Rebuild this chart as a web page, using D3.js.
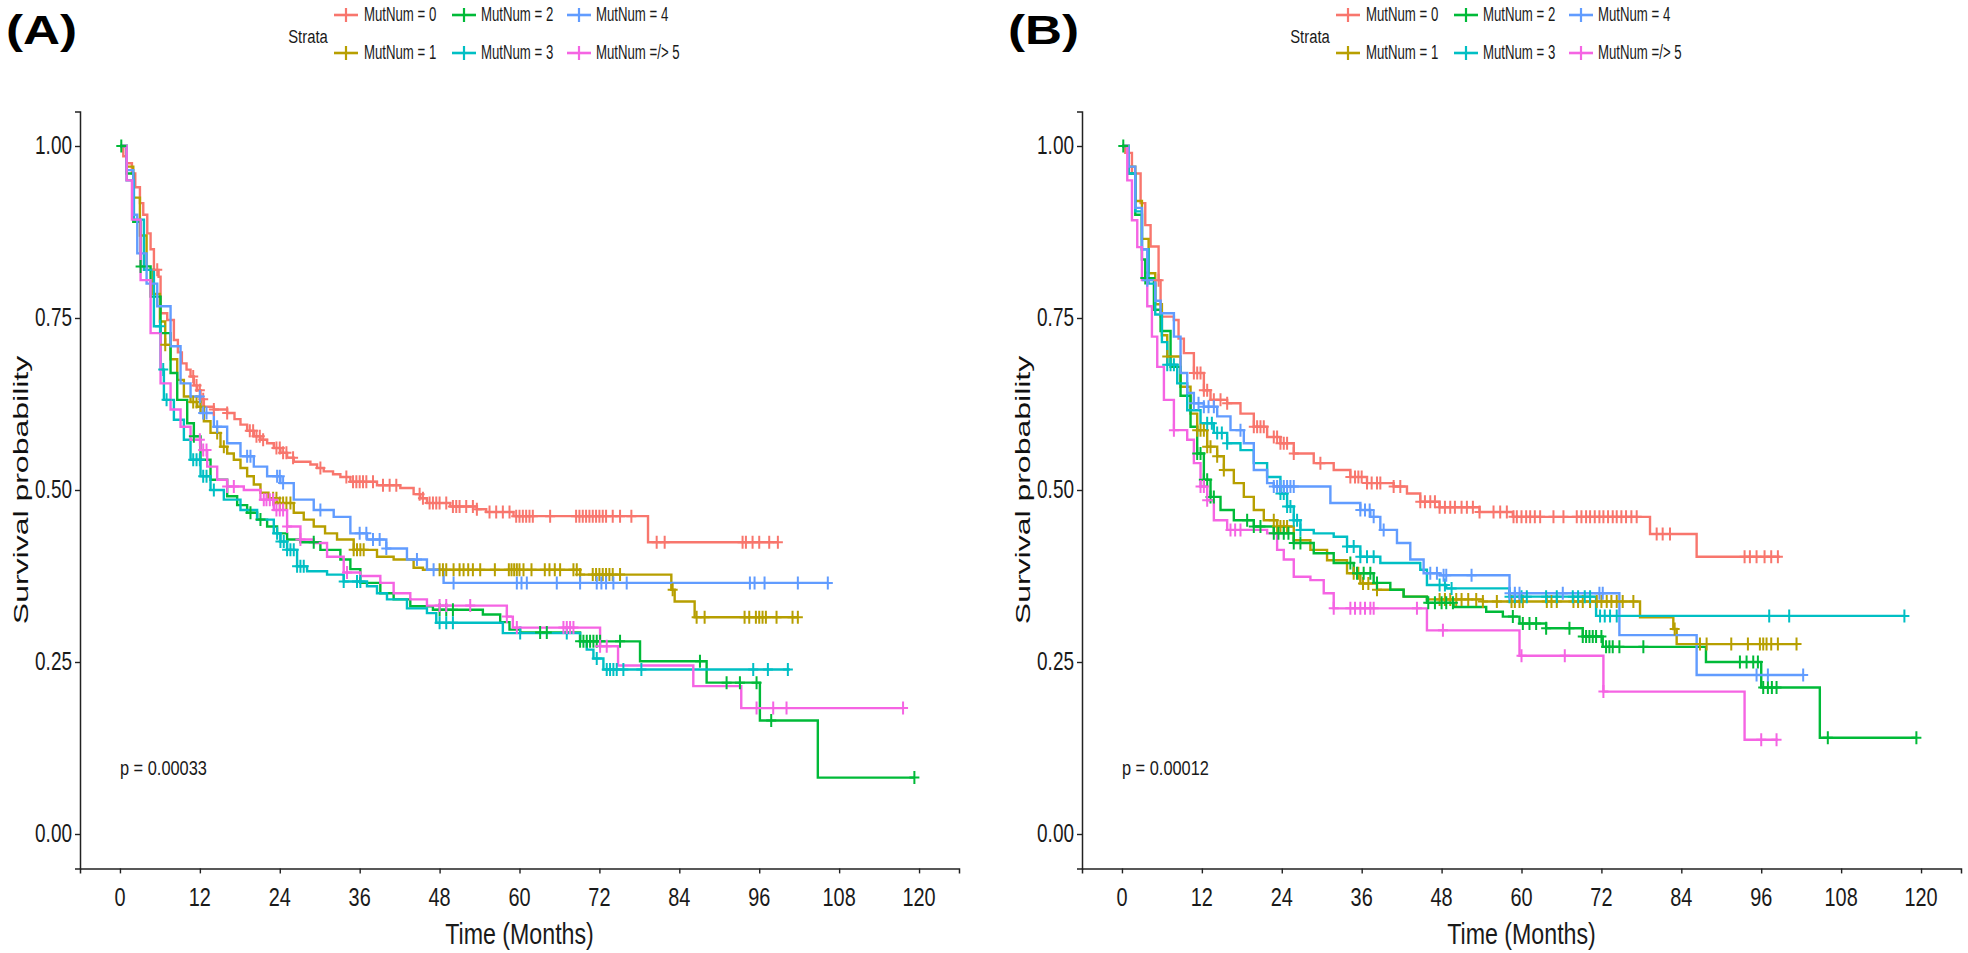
<!DOCTYPE html>
<html>
<head>
<meta charset="utf-8">
<script src="https://cdn.jsdelivr.net/npm/d3@7"></script>
<style>
  html, body { margin: 0; padding: 0; background: #ffffff; }
  svg { display: block; }
</style>
</head>
<body>
<svg id="chart" width="1968" height="953"></svg>
<script>
// ---------------- DATA ----------------
const categories = ["MutNum = 0", "MutNum = 1", "MutNum = 2", "MutNum = 3", "MutNum = 4", "MutNum =/> 5"];
const seriesColors = ["#F8766D", "#B79F00", "#00BA38", "#00BFC4", "#619CFF", "#F564E3"];
const legendOrder = [0, 2, 4, 1, 3, 5];
const legendTitle = "Strata";
const xTicks = [0, 12, 24, 36, 48, 60, 72, 84, 96, 108, 120];
const yTicks = [0, 0.25, 0.5, 0.75, 1];
const yTickLabels = ["0.00", "0.25", "0.50", "0.75", "1.00"];
const xTitle = "Time (Months)";
const yTitle = "Survival probability";
const panelLabels = ["(A)", "(B)"];
const pValueLabels = ["p = 0.00033", "p = 0.00012"];

// Panel A : [time, survival] step points
const survA0 = [[0,1],[0.5,0.985],[1,0.975],[1.8,0.96],[2.3,0.94],[3,0.917],[3.5,0.9],[4.1,0.873],[4.6,0.85],[5.1,0.82],[5.8,0.81],[6.1,0.757],[7.1,0.747],[8.1,0.718],[8.7,0.7],[9.3,0.684],[10,0.675],[10.6,0.665],[11.1,0.652],[11.6,0.645],[12.1,0.632],[12.6,0.621],[14.1,0.617],[16.1,0.612],[17.2,0.603],[18.1,0.595],[19.1,0.586],[20.1,0.578],[21.1,0.573],[22.1,0.568],[23.1,0.561],[24.1,0.554],[25.1,0.547],[26.1,0.541],[28.6,0.537],[29.6,0.532],[30.6,0.527],[32,0.523],[33.1,0.519],[34.6,0.512],[38.6,0.507],[42.1,0.503],[44.1,0.494],[45.1,0.488],[46.1,0.481],[49.6,0.476],[53.6,0.472],[55,0.468],[59.1,0.462],[79.3,0.424]];
const survA1 = [[0,1],[1,0.97],[2,0.925],[3,0.87],[4,0.82],[5,0.785],[6,0.745],[6.8,0.711],[7.6,0.69],[8.6,0.66],[9.6,0.636],[10.6,0.628],[11.6,0.621],[12.6,0.6],[13.6,0.583],[15.1,0.563],[16.1,0.553],[17.1,0.544],[18.1,0.532],[19.1,0.52],[20.1,0.508],[21.1,0.496],[22.3,0.488],[23.6,0.481],[26.1,0.467],[27.6,0.457],[29.1,0.447],[30.8,0.437],[32.6,0.428],[35.1,0.413],[38.6,0.403],[41.1,0.399],[44.1,0.387],[45.5,0.384],[69.1,0.377],[82.8,0.355],[83.3,0.338],[86.3,0.315]];
const survA2 = [[0,1],[1,0.96],[2,0.89],[3.1,0.825],[4.6,0.781],[6.1,0.728],[7.6,0.67],[8.6,0.631],[10.1,0.597],[11.1,0.578],[12.1,0.544],[13.6,0.515],[16.1,0.491],[17.6,0.478],[19.1,0.467],[20.6,0.457],[22.1,0.447],[23.6,0.437],[25.1,0.428],[27.1,0.424],[30.1,0.413],[33.1,0.399],[34.6,0.385],[36.1,0.365],[39.1,0.35],[41.1,0.341],[43.6,0.331],[47,0.326],[54.5,0.319],[57.1,0.308],[58.5,0.297],[60.1,0.293],[69.1,0.28],[78.1,0.251],[88.1,0.22],[96.1,0.165],[104.8,0.082]];
const survA3 = [[0,1],[1,0.95],[2.1,0.893],[3.6,0.82],[5.1,0.738],[6.1,0.675],[6.6,0.631],[8.1,0.602],[9.6,0.573],[10.6,0.544],[12.1,0.52],[13.6,0.5],[15.6,0.486],[18.1,0.471],[20.6,0.457],[23.1,0.437],[24.1,0.425],[25.1,0.413],[26.6,0.389],[28.1,0.382],[31.1,0.377],[33.6,0.367],[37.1,0.36],[38.6,0.35],[40.1,0.341],[43.1,0.328],[46.1,0.321],[47.5,0.307],[57.5,0.292],[69.1,0.28],[70.1,0.268],[71.1,0.255],[72.6,0.239]];
const survA4 = [[0,1],[1,0.965],[2,0.9],[2.6,0.844],[4,0.8],[5.6,0.767],[7.6,0.709],[9.1,0.655],[10.6,0.636],[12.1,0.612],[14.1,0.592],[16.1,0.568],[18.1,0.549],[20.1,0.534],[22.1,0.52],[24.1,0.51],[26.1,0.486],[29.1,0.471],[32.1,0.461],[34.6,0.437],[37.1,0.428],[40,0.415],[43.1,0.399],[46.1,0.384],[48.6,0.365]];
const survA5 = [[0,1],[1,0.95],[1.8,0.893],[3.1,0.805],[4.6,0.728],[6.1,0.655],[7.6,0.617],[9.1,0.592],[10.6,0.573],[12.1,0.558],[13.1,0.534],[14.6,0.515],[16.1,0.505],[18.6,0.5],[21.1,0.486],[23.1,0.471],[25.1,0.447],[27.1,0.428],[29.1,0.423],[31.1,0.403],[33.6,0.38],[36.1,0.375],[39.1,0.365],[41.1,0.35],[43.6,0.341],[46.1,0.332],[58.1,0.316],[59,0.3],[72.1,0.273],[74.8,0.245],[86.1,0.215],[93.3,0.183]];
const endA = [98.8, 101.8, 119.3, 100.6, 106.3, 117.6];
const censA0 = [5.6,11,11.5,12,12.5,14.1,16.1,19.5,20,20.5,21,21.5,23.5,24,24.5,25,26,30.1,34,35,35.5,36,36.5,37,38,39.5,40.5,41.5,45,45.5,46.5,47,47.5,48,49,50,50.5,51,52,53,53.6,55.5,56.5,57.5,58.5,59.5,60,60.5,61,61.5,62,64.6,68.5,69,69.5,70,70.5,71,71.5,72,72.5,73,74,75.1,76.8,80.6,81.8,93.5,94,95,96,97.5,98.8];
const censA1 = [6.8,11,11.5,12.1,14.6,15.6,23,23.5,24,24.5,25,25.6,35.1,35.6,36.1,36.6,48,48.5,49,50.1,51,51.6,52.3,53,54.1,56.3,58.4,58.8,59.2,59.6,60,60.6,61.8,63.8,64.5,65.3,66.1,68.1,68.6,69.1,71,71.5,72,72.5,73,73.5,74,75.1,83,86.6,87.8,93.8,94.5,95.5,96,96.5,97,98.6,101,101.8];
const censA2 = [0.2,3.1,11.1,19.6,21.1,29.1,48,49,50,63.1,64.1,69.1,69.6,70.1,70.6,71.1,71.6,72.1,75.1,87.1,91.1,93.1,95.6,97.8,119.3];
const censA3 = [6,6.5,7,11,11.5,12,12.5,13,14.1,23.6,24.1,24.6,25.1,25.6,26.1,26.6,27.1,27.6,33.6,35.6,36.1,48,49,50,60.1,67.1,71.6,73.1,73.6,74.1,74.6,75.6,78.3,95.1,97.3,100.3];
const censA4 = [12,12.5,13,14.6,19.1,19.6,23.6,24,24.5,30.1,36,37,38,39,40,44.6,47.1,50.1,59.6,60.3,61.1,65.6,69.1,71.6,72.3,73,74.1,76.1,94.6,95.3,96.8,101.8,106.3];
const censA5 = [12,12.5,13,16.1,17.1,21.6,22,22.5,23,23.5,24,24.5,25.1,27.1,34.1,48,49,52.6,58.1,59.6,66.6,67.1,67.6,68.1,72.1,73.1,95.6,98.1,100.1,117.6];

// Panel B : [time, survival] step points
const survB0 = [[0,1],[0.5,0.99],[1.5,0.96],[2.8,0.917],[3.5,0.885],[4.3,0.854],[5.5,0.805],[5.8,0.752],[7.8,0.747],[8.5,0.72],[9.3,0.699],[10.8,0.67],[12.3,0.645],[13.3,0.631],[15.8,0.626],[17.8,0.611],[19.8,0.592],[21.8,0.577],[23.8,0.568],[25.8,0.553],[28.8,0.539],[31.8,0.529],[34.3,0.519],[36.8,0.51],[40.8,0.505],[42.8,0.495],[44.8,0.483],[47.7,0.475],[53.7,0.468],[58.7,0.461],[79.3,0.436],[86.3,0.403]];
const survB1 = [[0,1],[1,0.97],[2,0.92],[3,0.865],[4,0.815],[5,0.77],[6,0.725],[6.8,0.694],[8.8,0.65],[10.3,0.611],[11.3,0.587],[12.8,0.563],[14.3,0.549],[15.3,0.529],[16.8,0.51],[18.3,0.49],[19.8,0.471],[21.3,0.456],[23.3,0.447],[25.8,0.427],[28.3,0.413],[30.8,0.398],[33.8,0.379],[35.8,0.364],[38.3,0.355],[42.3,0.345],[45.8,0.341],[54.2,0.338],[77.8,0.315],[82.8,0.298],[83.3,0.276]];
const survB2 = [[0,1],[1,0.96],[2,0.9],[3,0.835],[3.5,0.808],[4.8,0.762],[5.8,0.731],[7.3,0.679],[8.8,0.637],[10.3,0.592],[11.3,0.553],[12.3,0.515],[13.3,0.49],[14.8,0.471],[16.8,0.456],[19.8,0.447],[22.8,0.437],[25.8,0.423],[28.8,0.408],[31.8,0.394],[34.8,0.379],[37.8,0.365],[40.3,0.355],[42.3,0.345],[45.8,0.336],[49.8,0.33],[54.7,0.323],[57.2,0.316],[59.7,0.306],[63.7,0.299],[69.2,0.287],[72.2,0.272],[87.7,0.25],[96,0.213],[104.8,0.14]];
const survB3 = [[0,1],[1,0.96],[2,0.905],[3,0.85],[4,0.8],[5,0.755],[6,0.715],[6.8,0.682],[8.3,0.655],[9.8,0.616],[11.8,0.597],[13.8,0.583],[15.8,0.568],[17.8,0.558],[19.8,0.539],[21.8,0.519],[23.8,0.495],[24.8,0.476],[25.8,0.456],[26.8,0.442],[28.8,0.437],[31.8,0.432],[33.8,0.418],[35.8,0.403],[38.8,0.394],[44.8,0.384],[45.8,0.362],[48.7,0.357],[58.2,0.345],[71.2,0.317]];
const survB4 = [[0,1],[1,0.97],[2,0.91],[3,0.85],[3.8,0.805],[5,0.775],[5.8,0.757],[7.8,0.723],[8.8,0.67],[9.8,0.641],[10.8,0.626],[12.3,0.621],[14.3,0.607],[16.3,0.587],[18.3,0.568],[19.8,0.529],[21.8,0.51],[22.8,0.505],[31.3,0.481],[35.8,0.471],[37.3,0.461],[38.8,0.442],[41.3,0.423],[43.3,0.399],[45.3,0.379],[47.7,0.376],[58.2,0.35],[74.7,0.289],[86.3,0.231]];
const survB5 = [[0,1],[0.8,0.95],[1.5,0.892],[2.3,0.853],[3,0.805],[3.8,0.767],[4.5,0.723],[5.3,0.679],[6.3,0.631],[7.8,0.587],[9.8,0.573],[10.8,0.539],[11.8,0.505],[12.8,0.485],[13.8,0.456],[15.8,0.442],[21.8,0.437],[23.3,0.413],[24.3,0.399],[25.8,0.374],[28.3,0.369],[30.3,0.35],[31.8,0.328],[45.8,0.296],[59.7,0.259],[72.3,0.207],[93.5,0.137]];
const endB = [98.8, 101.5, 119.3, 117.5, 102.3, 98.5];
const censB0 = [5.5,10.8,11.3,11.8,12.3,12.8,13.8,14.8,15.8,19.8,20.3,20.8,21.3,22.8,23.3,23.8,24.3,24.8,25.8,29.8,34.3,35,35.5,36,36.8,37.5,38.3,38.8,40.8,41.8,44.8,45.5,46.3,47,47.7,48.5,49.3,50,51,51.8,52.7,53.7,55.8,56.8,57.8,58.8,59.3,60,60.7,61.3,62,62.8,64.8,66.3,68.3,69,69.7,70.3,71,71.7,72.3,73,73.7,74.3,75,75.7,76.5,77.3,80.3,81.2,82.3,93.5,94.3,95.3,96.5,97.5,98.5];
const censB1 = [6.8,11.3,11.8,12.3,12.8,13.3,14.3,15.3,22.8,23.3,23.8,24.3,24.8,34.8,35.5,36.2,37,38.3,47.7,48.5,49.3,50.2,51,52,53.2,54.2,56.3,58.5,59,59.7,60.2,63.8,64.5,65.3,67.8,68.5,69.2,70.3,71.3,72,72.8,73.5,74.3,75.2,76.8,83,86.8,87.8,91.5,94,95.8,96.3,96.8,97.5,98.5,101.3];
const censB2 = [0.2,3.5,11.3,11.8,12.3,12.8,13.3,13.8,18.8,19.8,20.8,22.8,23.5,24.3,25,25.8,26.8,34.3,35.3,36.3,37.3,38.3,46,47,48,48.7,49.7,58.7,60.2,61.2,62.2,63.7,67.2,69.2,69.7,70.2,70.7,71.2,72,72.7,73.2,73.7,74.7,78.3,92.8,93.8,94.8,95.5,96.3,97,97.6,98.3,106,119.3];
const censB3 = [6.8,7.3,7.8,12.8,13.5,14.3,15,15.8,23.8,24.3,24.8,25.3,25.8,26.3,26.8,33.8,34.8,35.8,36.8,37.8,47.7,48.5,49.5,58.2,59,60,60.8,63.7,65.3,67.7,68.5,69.5,70.3,71.8,72.5,73.3,74.3,97.2,100.2,117.5];
const censB4 = [3.8,10.8,11.5,12.3,13,13.8,17.8,22.8,23.3,23.8,24.3,24.8,25.3,25.8,35.8,36.5,37.2,37.8,39.3,46.3,47.3,48.3,48.7,52.5,58.2,59,59.7,66.2,71.7,72.2,95.3,97,102.3];
const censB5 = [7.8,11.8,12.3,12.8,16.3,17,17.8,31.8,34.3,35,35.8,36.5,37.3,37.8,44.3,48.2,60,66.5,72.3,96,98.3];

// ---------------- BUILD ----------------
const panels = [
  { label: panelLabels[0], pval: pValueLabels[0], surv: [survA0, survA1, survA2, survA3, survA4, survA5], ends: endA, cens: [censA0, censA1, censA2, censA3, censA4, censA5] },
  { label: panelLabels[1], pval: pValueLabels[1], surv: [survB0, survB1, survB2, survB3, survB4, survB5], ends: endB, cens: [censB0, censB1, censB2, censB3, censB4, censB5] }
];
const panelOffsets = [0, 1002];
const FONT = "'Liberation Sans', Arial, Helvetica, sans-serif";
const svg = d3.select("#chart");

function addText(g, x, y, str, o) {
  const sx = o.sx || 1;
  let tr = `translate(${x},${y}) scale(${sx},1)`;
  if (o.rotate) tr += ` rotate(${o.rotate})`;
  return g.append("text")
    .attr("transform", tr)
    .attr("font-family", FONT)
    .attr("font-size", o.size)
    .attr("font-weight", o.weight || "normal")
    .attr("fill", o.fill || "#1a1a1a")
    .attr("text-anchor", o.anchor || "start")
    .attr("dominant-baseline", o.baseline || "alphabetic")
    .text(str);
}

function survAt(steps, t) {
  let v = steps[0][1];
  for (const p of steps) { if (p[0] <= t) v = p[1]; else break; }
  return v;
}

panels.forEach((pd, pi) => {
  const off = panelOffsets[pi];
  const g = svg.append("g");
  const x = d3.scaleLinear().domain([-6, 126]).range([80 + off, 959 + off]);
  const y = d3.scaleLinear().domain([-0.05, 1.05]).range([868.4, 111.6]);

  // axes
  const xAxis = d3.axisBottom(x).tickValues(xTicks).tickSize(5).tickFormat(d => d);
  const gx = g.append("g").attr("transform", `translate(0,${y(-0.05)})`).call(xAxis);
  gx.select(".domain").attr("stroke", "#222").attr("stroke-width", 1.5);
  gx.selectAll(".tick line").attr("stroke", "#222").attr("stroke-width", 1.4);
  gx.selectAll(".tick text").remove();
  const yAxis = d3.axisLeft(y).tickValues(yTicks).tickSize(5).tickFormat((d, i) => yTickLabels[i]);
  const gy = g.append("g").attr("transform", `translate(${x(-6)},0)`).call(yAxis);
  gy.select(".domain").attr("stroke", "#222").attr("stroke-width", 1.5);
  gy.selectAll(".tick line").attr("stroke", "#222").attr("stroke-width", 1.4);
  gy.selectAll(".tick text").remove();

  // tick labels (condensed text)
  xTicks.forEach(t => addText(g, x(t), 897, String(t), { size: 25.5, sx: 0.78, anchor: "middle", baseline: "central" }));
  yTicks.forEach((t, i) => addText(g, x(-6) - 8, y(t), yTickLabels[i], { size: 25, sx: 0.76, anchor: "end", baseline: "central" }));

  // axis titles
  addText(g, (x(-6) + x(126)) / 2, 934, xTitle, { size: 29, sx: 0.8, anchor: "middle", baseline: "central" });
  addText(g, 21 + off, (y(-0.05) + y(1.05)) / 2, yTitle, { size: 32, sx: 0.62, anchor: "middle", baseline: "central", rotate: -90, fill: "#111" });

  // panel label
  addText(g, 6 + off, 44, pd.label, { size: 41, weight: "bold", sx: 1.25, fill: "#000" });

  // curves
  const line = d3.line().x(d => x(d[0])).y(d => y(d[1])).curve(d3.curveStepAfter);
  pd.surv.forEach((steps, si) => {
    const pts = steps.concat([[pd.ends[si], steps[steps.length - 1][1]]]);
    g.append("path").datum(pts).attr("d", line)
      .attr("fill", "none").attr("stroke", seriesColors[si]).attr("stroke-width", 2.4)
      .attr("stroke-linejoin", "miter");
  });
  // censor marks
  pd.surv.forEach((steps, si) => {
    const marks = pd.cens[si].map(t => [t, survAt(steps, t)]);
    g.append("g").selectAll("path").data(marks).join("path")
      .attr("d", d => { const cx = x(d[0]), cy = y(d[1]); return `M${cx - 5},${cy}H${cx + 5}M${cx},${cy - 6.5}V${cy + 6.5}`; })
      .attr("stroke", seriesColors[si]).attr("stroke-width", 2).attr("fill", "none");
  });

  // p-value
  addText(g, x(0), y(0.096), pd.pval, { size: 21, sx: 0.78, baseline: "central" });

  // legend
  const lg = g.append("g");
  addText(lg, 308 + off, 37, legendTitle, { size: 19, sx: 0.78, anchor: "middle", baseline: "central" });
  const colSym = [346, 464, 579], colTxt = [364, 481, 596], rowY = [15, 53];
  legendOrder.forEach((si, k) => {
    const col = k % 3, row = Math.floor(k / 3);
    const cx = colSym[col] + off, cy = rowY[row];
    lg.append("path").attr("d", `M${cx - 12},${cy}H${cx + 12}`).attr("stroke", seriesColors[si]).attr("stroke-width", 2.6);
    lg.append("path").attr("d", `M${cx},${cy - 7}V${cy + 7}`).attr("stroke", seriesColors[si]).attr("stroke-width", 2.2);
    addText(lg, colTxt[col] + off, cy, categories[si], { size: 20, sx: 0.66, baseline: "central" });
  });
});
</script>
</body>
</html>
